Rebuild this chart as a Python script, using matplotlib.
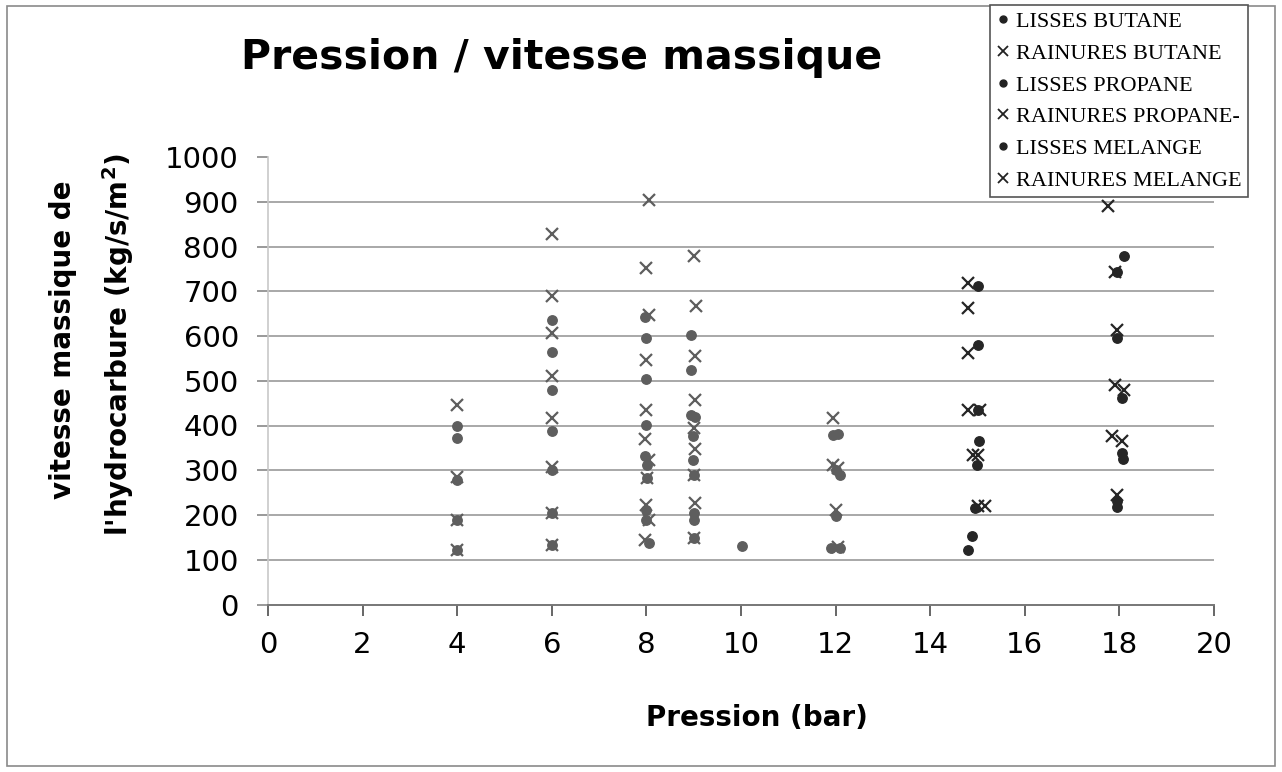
import matplotlib
matplotlib.use("Agg")
import matplotlib.pyplot as plt
from matplotlib.patches import Rectangle

# ---------------- data ----------------
lisses_butane_x = [4, 4, 4, 4, 4, 6, 6, 6, 6, 6, 6, 6]
lisses_butane_y = [398, 372, 279, 189, 122, 635, 564, 479, 387, 301, 204, 133]

rainures_butane_x = [4, 4, 4, 4, 6, 6, 6, 6, 6, 6, 6, 6]
rainures_butane_y = [446, 286, 189, 122, 829, 689, 607, 510, 417, 308, 204, 133]

lisses_propane_x = [7.98, 8, 8, 8, 7.98, 8.02, 8.02, 8, 8, 8.05,
                    8.95, 8.95, 8.95, 9.02, 8.98, 8.98, 9, 9, 9, 9,
                    10.02, 11.95, 12.05, 12.0, 12.1, 12.0, 11.9, 12.1]
lisses_propane_y = [643, 596, 504, 402, 332, 312, 282, 212, 189, 137,
                    603, 525, 424, 418, 376, 323, 290, 205, 189, 148,
                    130, 379, 382, 301, 290, 197, 127, 127]

rainures_propane_x = [8.05, 8, 8.05, 8, 8, 7.98, 8.05, 8.02, 8, 8.05, 7.98,
                      9, 9.05, 9.02, 9.02, 9, 9.02, 9, 9.02, 9,
                      11.95, 11.95, 12.05, 12.0, 12.05]
rainures_propane_y = [905, 753, 648, 546, 435, 370, 323, 282, 223, 189, 144,
                      779, 668, 555, 458, 394, 347, 290, 227, 148,
                      417, 312, 305, 211, 129]

lisses_melange_x = [15.0, 15.0, 15.0, 15.03, 14.98, 14.95, 14.88, 14.8,
                    18.1, 17.95, 17.95, 18.05, 18.05, 18.07, 17.95, 17.95]
lisses_melange_y = [711, 581, 435, 365, 312, 216, 152, 122,
                    779, 743, 596, 462, 338, 326, 232, 218]

rainures_melange_x = [14.8, 14.8, 14.8, 14.8, 15.05, 14.9, 15.0, 15.0, 15.15,
                      17.75, 17.9, 17.95, 17.9, 18.1, 17.85, 18.05, 17.95]
rainures_melange_y = [719, 663, 562, 435, 435, 335, 335, 221, 221,
                      890, 743, 614, 491, 480, 376, 365, 245]

series_labels = ["LISSES BUTANE", "RAINURES BUTANE", "LISSES PROPANE",
                 "RAINURES PROPANE-", "LISSES MELANGE", "RAINURES MELANGE"]

x_ticks = [0, 2, 4, 6, 8, 10, 12, 14, 16, 18, 20]
y_ticks = [0, 100, 200, 300, 400, 500, 600, 700, 800, 900, 1000]
grid_levels = [100, 200, 300, 400, 500, 600, 700, 800, 900]

# ---------------- figure ----------------
W, H = 1282, 772
fig = plt.figure(figsize=(W / 100, H / 100), dpi=100)
fig.patch.set_facecolor("white")

# outer chart border
fig.patches.append(Rectangle((7 / W, 6 / H), (1275 - 7) / W, (766 - 6) / H,
                             transform=fig.transFigure, fill=False,
                             edgecolor="#8a8a8a", linewidth=1.2, zorder=0))

left, right = 268 / W, 1214 / W
bottom, top = 1 - 604.5 / H, 1 - 157 / H
ax = fig.add_axes([left, bottom, right - left, top - bottom])

ax.set_xlim(0, 20)
ax.set_ylim(0, 1000)

for g in grid_levels:
    ax.axhline(g, color="#a8a8a8", linewidth=1.4, zorder=1)

mid = "#5e5e5e"
dark = "#262626"
dot_kw = dict(marker="o", linestyle="none", markersize=6.8, zorder=3)
x_kw = dict(marker="x", linestyle="none", markersize=8.5, markeredgewidth=1.6, zorder=3)

ax.plot(lisses_butane_x, lisses_butane_y, color=mid, label=series_labels[0], **dot_kw)
ax.plot(rainures_butane_x, rainures_butane_y, color=mid, label=series_labels[1], **x_kw)
ax.plot(lisses_propane_x, lisses_propane_y, color=mid, label=series_labels[2], **dot_kw)
ax.plot(rainures_propane_x, rainures_propane_y, color=mid, label=series_labels[3], **x_kw)
ax.plot(lisses_melange_x, lisses_melange_y, color=dark, label=series_labels[4], **dot_kw)
ax.plot(rainures_melange_x, rainures_melange_y, color=dark, label=series_labels[5], **x_kw)

for s in ["top", "right"]:
    ax.spines[s].set_visible(False)
ax.spines["left"].set_color("#c8c8c8")
ax.spines["left"].set_linewidth(1.2)
ax.spines["bottom"].set_color("#777777")
ax.spines["bottom"].set_linewidth(1.4)

ax.set_xticks(x_ticks)
ax.set_yticks(y_ticks)
ax.tick_params(axis="x", direction="out", length=8, width=1.4, color="#666666",
               labelsize=21, pad=11)
ax.tick_params(axis="y", direction="out", length=8, width=1.2, color="#888888",
               labelsize=21, pad=13)
for lab in ax.get_xticklabels() + ax.get_yticklabels():
    lab.set_fontfamily("DejaVu Sans")

fig.text(562 / W, 1 - 58 / H, "Pression / vitesse massique", ha="center", va="center",
         fontsize=29.5, fontweight="bold", family="DejaVu Sans")
fig.text(757 / W, 1 - 718 / H, "Pression (bar)", ha="center", va="center",
         fontsize=20, fontweight="bold", family="DejaVu Sans")
fig.text(63 / W, 1 - 340 / H, "vitesse massique de", ha="center", va="center",
         rotation=90, fontsize=20, fontweight="bold", family="DejaVu Sans")
fig.text(118 / W, 1 - 345 / H, "l'hydrocarbure (kg/s/m$^{\\mathbf{2}}$)", ha="center",
         va="center", rotation=90, fontsize=20, fontweight="bold", family="DejaVu Sans")

leg_handles = []
for i in range(6):
    if i % 2 == 0:
        hh, = ax.plot([], [], marker="o", linestyle="none", color="#222222", markersize=5)
    else:
        hh, = ax.plot([], [], marker="x", linestyle="none", color="#222222",
                      markersize=6.5, markeredgewidth=1.3)
    leg_handles.append(hh)

leg = fig.legend(leg_handles, series_labels, loc="upper left",
                 bbox_to_anchor=(990 / W, 1 - 5 / H), frameon=True, fancybox=False,
                 edgecolor="#555555", framealpha=1,
                 prop={"family": "Liberation Serif", "size": 16},
                 handlelength=0.55, handletextpad=0.3, labelspacing=0.5,
                 borderpad=0.3, borderaxespad=0, markerscale=1)
leg.get_frame().set_linewidth(1.2)

fig.savefig("out.png", dpi=100)
